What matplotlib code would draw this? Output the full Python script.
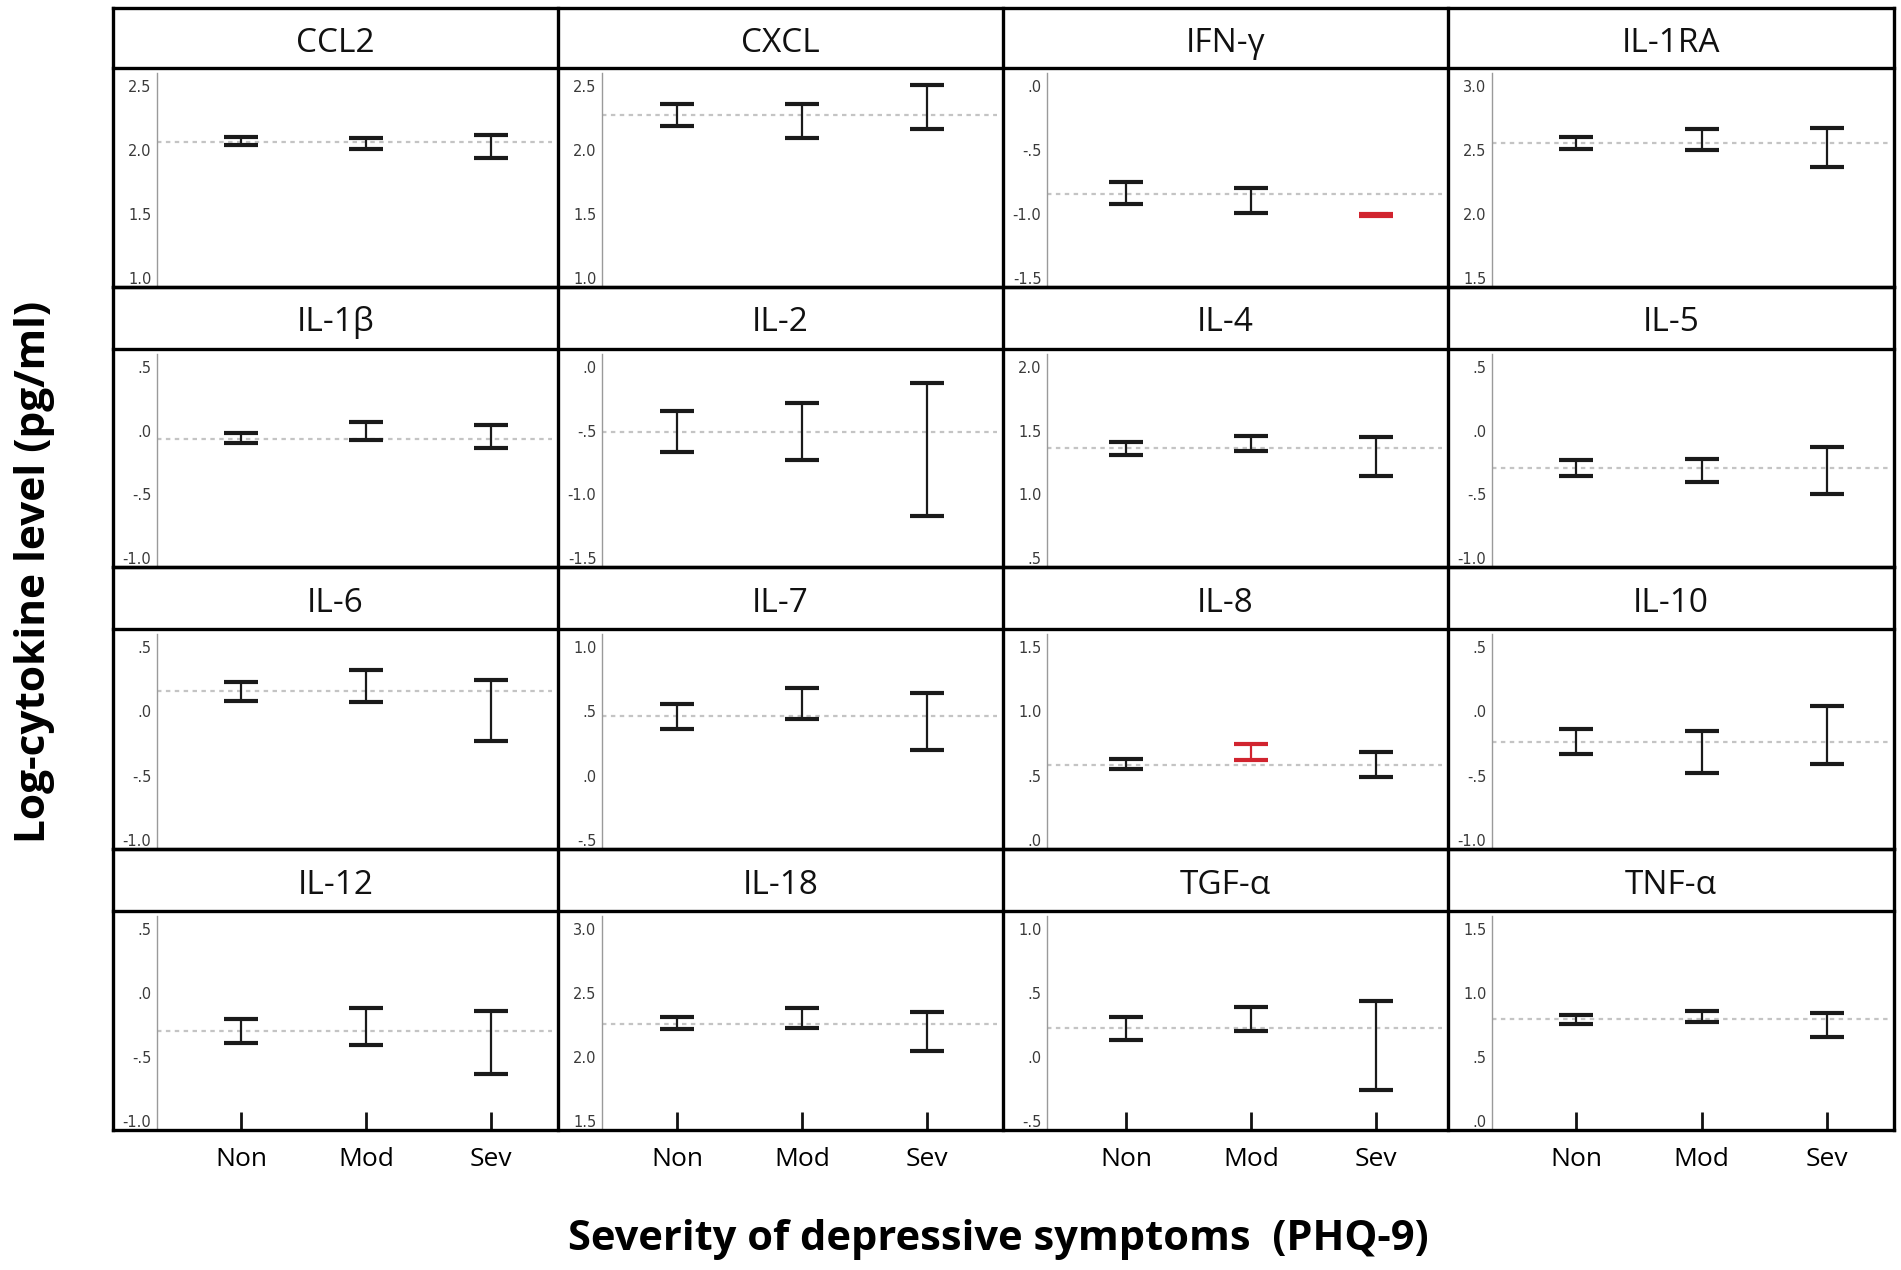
import numpy as np
import matplotlib
matplotlib.use("Agg")
import matplotlib.pyplot as plt
from matplotlib.lines import Line2D

plt.rcParams["font.family"] = ["Open Sans", "DejaVu Sans"]

# ── data ──────────────────────────────────────────────────────────────────────
cytokines = ["CCL2", "CXCL", "IFN-γ", "IL-1RA",
             "IL-1β", "IL-2", "IL-4", "IL-5",
             "IL-6", "IL-7", "IL-8", "IL-10",
             "IL-12", "IL-18", "TGF-α", "TNF-α"]
groups = ["Non", "Mod", "Sev"]

# lower / upper end of each error bar (Non, Mod, Sev)
ci_low = [
    [2.04, 2.01, 1.94], [2.19, 2.09, 2.16], [-0.92, -0.99, -1.015], [2.51, 2.50, 2.37],
    [-0.10, -0.07, -0.14], [-0.67, -0.73, -1.17], [1.31, 1.34, 1.14], [-0.36, -0.40, -0.50],
    [0.08, 0.075, -0.23], [0.36, 0.44, 0.20], [0.55, 0.62, 0.49], [-0.33, -0.48, -0.41],
    [-0.39, -0.41, -0.63], [2.22, 2.225, 2.05], [0.13, 0.20, -0.255], [0.76, 0.77, 0.66],
]
ci_high = [
    [2.10, 2.09, 2.12], [2.36, 2.36, 2.51], [-0.75, -0.80, -0.997], [2.60, 2.66, 2.67],
    [-0.02, 0.07, 0.04], [-0.35, -0.28, -0.13], [1.41, 1.46, 1.45], [-0.23, -0.22, -0.13],
    [0.23, 0.32, 0.24], [0.56, 0.68, 0.64], [0.63, 0.75, 0.685], [-0.14, -0.15, 0.04],
    [-0.20, -0.12, -0.14], [2.31, 2.38, 2.35], [0.31, 0.39, 0.44], [0.83, 0.86, 0.845],
]
# overall mean (dashed reference line)
grand_mean = [2.065, 2.27, -0.845, 2.555,
              -0.065, -0.51, 1.36, -0.295,
              0.155, 0.46, 0.58, -0.24,
              -0.30, 2.26, 0.225, 0.795]
# lowest y tick of each panel (4 ticks, step 0.5)
tick_start = [1.0, 1.0, -1.5, 1.5,
              -1.0, -1.5, 0.5, -1.0,
              -1.0, -0.5, 0.0, -1.0,
              -1.0, 1.5, -0.5, 0.0]
# bars drawn in red: (panel index, group index)
highlight = [(2, 2), (10, 1)]

# ── layout in pixels of the 1901x1270 canvas ──────────────────────────────────
W, H = 1901, 1270
col_px = [113, 558, 1003, 1448, 1894]
row_px = [(8, 68, 287), (287, 349, 567), (567, 629, 849), (849, 911, 1130)]
col_shift = [0, -9, -5, 0]     # small per-column offset of the categories (px)
SPINE_OFF = 44
PX_PER_CAT = 125.0


def fx(x):
    return x / W


def fy(y):
    return 1 - y / H


def spss_fmt(v):
    s = f"{v:.1f}"
    return s.replace("0.", ".", 1) if s.lstrip("-").startswith("0.") else s


fig = plt.figure(figsize=(W / 100, H / 100), dpi=100)

for i, name in enumerate(cytokines):
    r, c = divmod(i, 4)
    top_band, top, bot = row_px[r]
    left, right = col_px[c] + SPINE_OFF, col_px[c + 1]
    ax = fig.add_axes([fx(left), fy(bot), fx(right) - fx(left), fy(top) - fy(bot)])

    lo = tick_start[i]
    ticks = [lo + 0.5 * k for k in range(4)]
    ax.set_ylim(lo - 0.07, lo + 1.5 + 0.14)
    dx = -col_shift[c] / PX_PER_CAT
    ax.set_xlim(-0.672 + dx, 2.536 + dx)

    for s in ["top", "right", "bottom"]:
        ax.spines[s].set_visible(False)
    ax.spines["left"].set_color("#9a9a9a")
    ax.spines["left"].set_linewidth(1.0)
    ax.spines["left"].set_bounds(lo - 0.06, lo + 1.6)

    ax.set_yticks(ticks)
    ax.set_yticklabels([spss_fmt(t) for t in ticks],
                       family=["Liberation Sans Narrow", "DejaVu Sans"])
    ax.tick_params(axis="y", length=0, pad=4, labelsize=10.5, labelcolor="#3a3a3a")

    ax.axhline(grand_mean[i], xmin=0.0, xmax=0.985, color="#c4c4c4",
               linewidth=1.6, linestyle=(0, (2, 2)), zorder=1)

    x = np.arange(3)
    mid = (np.array(ci_low[i]) + np.array(ci_high[i])) / 2
    half = (np.array(ci_high[i]) - np.array(ci_low[i])) / 2
    for g in range(3):
        col = "#d1242f" if (i, g) in highlight else "#1a1a1a"
        ax.errorbar(x[g], mid[g], yerr=half[g], fmt="none", ecolor=col,
                    elinewidth=1.6, capsize=12.5, capthick=3.0, zorder=3)

    ax.set_xticks(x)
    if r == 3:
        ax.set_xticklabels(groups, fontsize=19)
        ax.tick_params(axis="x", direction="in", length=13, width=2.0,
                       color="#111111", pad=12)
    else:
        ax.tick_params(axis="x", length=0, labelbottom=False)

    fig.text(fx((col_px[c] + col_px[c + 1]) / 2), fy((top_band + top) / 2 + 5), name,
             ha="center", va="center", fontsize=24, color="#111111")

# ── cell borders ──────────────────────────────────────────────────────────────
for (tb, t, b) in row_px:
    for y in (tb, t, b):
        fig.add_artist(Line2D([fx(col_px[0]), fx(col_px[-1])], [fy(y), fy(y)],
                              color="black", linewidth=2.4, zorder=10))
for xc in col_px:
    fig.add_artist(Line2D([fx(xc), fx(xc)], [fy(row_px[0][0]), fy(row_px[-1][2])],
                          color="black", linewidth=2.4, zorder=10))

fig.text(fx(35), fy(572), "Log-cytokine level (pg/ml)", rotation=90,
         ha="center", va="center", fontsize=30.5, fontweight="bold")
fig.text(fx(998), fy(1240), "Severity of depressive symptoms  (PHQ-9)",
         ha="center", va="center", fontsize=30, fontweight="bold")

fig.savefig("out.png", dpi=100)
